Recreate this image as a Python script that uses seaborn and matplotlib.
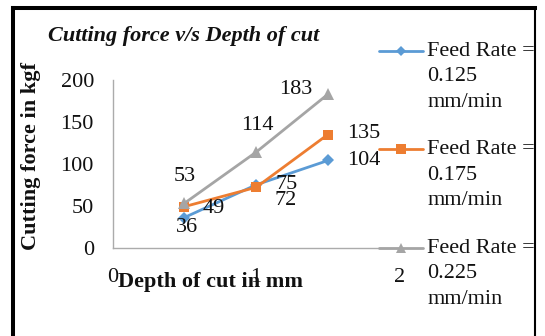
import matplotlib
matplotlib.use("Agg")
import matplotlib.pyplot as plt
from matplotlib.lines import Line2D
import seaborn as sns
import pandas as pd

# ---- data ----
depth = [0.5, 1.0, 1.5]
feed_0125 = [36, 75, 104]
feed_0175 = [49, 72, 135]
feed_0225 = [53, 114, 183]
series_names = ["Feed Rate =\n0.125\nmm/min",
                "Feed Rate =\n0.175\nmm/min",
                "Feed Rate =\n0.225\nmm/min"]
x_ticks = [0, 1, 2]
y_ticks = [0, 50, 100, 150, 200]
title = "Cutting force v/s Depth of cut"
x_label = "Depth of cut in mm"
y_label = "Cutting force in kgf"

colors = ["#5B9BD5", "#ED7D31", "#A5A5A5"]
markers = ["D", "s", "^"]

rows = []
for name, vals in zip(series_names, [feed_0125, feed_0175, feed_0225]):
    for d, v in zip(depth, vals):
        rows.append({"depth": d, "force": v, "series": name})
df = pd.DataFrame(rows)

sns.set_style("white")
plt.rcParams["font.family"] = ["Liberation Serif", "DejaVu Serif"]
FS = 16

fig = plt.figure(figsize=(5.45, 3.36), dpi=100)
ax = fig.add_axes([112.7 / 545, 1 - 247.7 / 336, 286.9 / 545, (247.7 - 80) / 336])

sns.lineplot(data=df, x="depth", y="force", hue="series", style="series",
             hue_order=series_names, style_order=series_names,
             palette=colors, markers=markers, dashes=False,
             linewidth=2.0, markersize=7.5, markeredgewidth=0, ax=ax)
# per-series marker sizes
for ln, ms in zip(ax.get_lines()[:3], [6.5, 7.5, 9]):
    ln.set_markersize(ms)

ax.set_xlim(0, 2)
ax.set_ylim(0, 200)
ax.set_xticks(x_ticks)
ax.set_xticklabels([str(t) for t in x_ticks])
ax.set_yticks(y_ticks)
ax.set_yticklabels([str(t) for t in y_ticks])
ax.set_xlabel("")
ax.set_ylabel("")
for s in ["top", "right"]:
    ax.spines[s].set_visible(False)
for s in ["left", "bottom"]:
    ax.spines[s].set_color("#ABABAB")
    ax.spines[s].set_linewidth(1.0)
ax.tick_params(axis="both", which="major", direction="out", length=5.5,
               width=1.0, color="#ABABAB", labelsize=FS, labelcolor="#111111")
ax.tick_params(axis="x", pad=9)
ax.tick_params(axis="y", pad=8)
ax.patch.set_alpha(0)

# data labels
offsets = {
    0: [(2, -7.5), (22, 0), (26, 0)],
    1: [(21, -1), (21, -9.6), (26, 0.7)],
    2: [(0, 19), (1, 19), (-23.5, 3.4)],
}
for si, vals in enumerate([feed_0125, feed_0175, feed_0225]):
    for pi, (d, v) in enumerate(zip(depth, vals)):
        ax.annotate(str(v), (d, v), xytext=offsets[si][pi],
                    textcoords="offset points", ha="center", va="center",
                    fontsize=FS, color="#111111", annotation_clip=False)

# legend
handles, labels = ax.get_legend_handles_labels()
ax.get_legend().remove()
leg = fig.legend(handles, labels, loc="upper left",
                 bbox_to_anchor=(379 / 545, 1 - 42 / 336),
                 frameon=False, handlelength=2.0, handleheight=0.95,
                 handletextpad=0.18, labelspacing=1.3, borderpad=0,
                 borderaxespad=0, prop={"size": FS})
for t in leg.get_texts():
    t.set_linespacing(1.45)
    t.set_color("#111111")
for h, ms in zip(leg.legend_handles, [5, 7, 7]):
    h.set_markersize(ms)
    h.set_linewidth(2.0)
for col in leg._legend_handle_box.get_children():
    for item in col.get_children():
        item.align = "top"

# titles
fig.text(47.6 / 545, 1 - 41 / 336, title, ha="left", va="baseline",
         fontsize=FS, fontweight="bold", fontstyle="italic", color="#111111")
fig.text(31 / 545, 1 - 155.5 / 336, y_label, rotation=90, ha="center",
         va="center", fontsize=FS, fontweight="bold", color="#111111")
fig.text(118 / 545, 1 - 287.5 / 336, x_label, ha="left", va="baseline",
         fontsize=FS, fontweight="bold", color="#111111")

# black frame around the chart
fig.add_artist(Line2D([13 / 545, 13 / 545], [0, 1 - 8 / 336],
                      transform=fig.transFigure, color="black", linewidth=2.9,
                      solid_capstyle="projecting"))
fig.add_artist(Line2D([13 / 545, 535 / 545], [1 - 8 / 336, 1 - 8 / 336],
                      transform=fig.transFigure, color="black", linewidth=2.9,
                      solid_capstyle="projecting"))
fig.add_artist(Line2D([535 / 545, 535 / 545], [0, 1 - 8 / 336],
                      transform=fig.transFigure, color="black", linewidth=1.5))

fig.savefig("out.png", dpi=100)
